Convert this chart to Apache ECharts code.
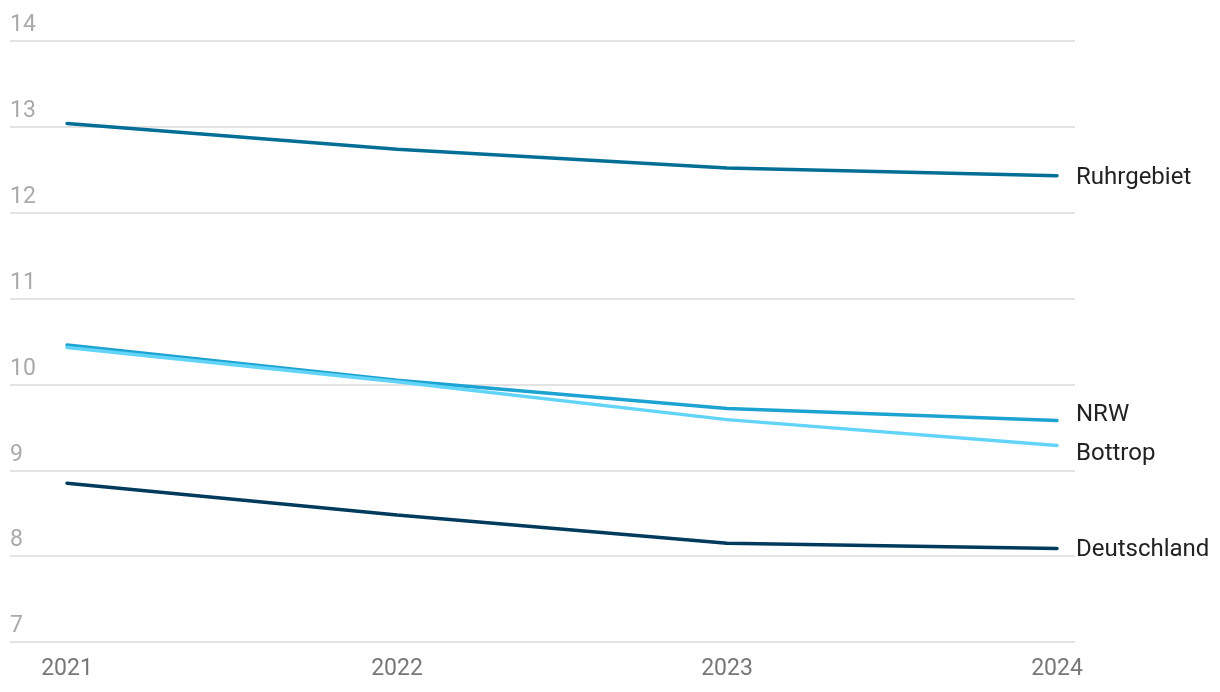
<!DOCTYPE html>
<html>
<head>
<meta charset="utf-8">
<script src="https://cdn.jsdelivr.net/npm/echarts@6/dist/echarts.min.js"></script>
<style>
html,body{margin:0;padding:0;background:#fff;}
#chart{width:1220px;height:692px;}
</style>
</head>
<body>
<div id="chart"></div>
<script>
const years = [2021, 2022, 2023, 2024];
const ruhrgebiet = [13.04, 12.74, 12.52, 12.43];
const nrw = [10.46, 10.05, 9.72, 9.58];
const bottrop = [10.43, 10.03, 9.59, 9.29];
const deutschland = [8.85, 8.48, 8.15, 8.09];
const yTicks = [7, 8, 9, 10, 11, 12, 13, 14];

const font = 'Roboto, "Noto Sans", sans-serif';
function mk(name, data, color, offset) {
  return {
    name: name,
    type: 'line',
    data: years.map((y, i) => [y, data[i]]),
    symbol: 'none',
    lineStyle: { color: color, width: 3.5, cap: 'round' },
    itemStyle: { color: color },
    emphasis: { disabled: true },
    endLabel: {
      show: true,
      formatter: name,
      color: '#222',
      fontFamily: font,
      fontSize: 24,
      distance: 19,
      offset: offset || [0, 2]
    }
  };
}
const chart = echarts.init(document.getElementById('chart'));
chart.setOption({
  animation: false,
  backgroundColor: '#fff',
  grid: { left: 10, right: 145, top: 41, bottom: 50, containLabel: false },
  xAxis: {
    type: 'value',
    min: 2021 - 57 / 330,
    max: 2024 + 18 / 330,
    axisLine: { show: false },
    axisTick: { show: false },
    splitLine: { show: false },
    axisLabel: {
      customValues: years,
      formatter: v => String(Math.round(v)),
      color: '#777',
      fontFamily: font,
      fontSize: 23,
      margin: 16
    }
  },
  yAxis: {
    type: 'value',
    min: 7,
    max: 14,
    interval: 1,
    axisLine: { show: false },
    axisTick: { show: false },
    splitLine: { lineStyle: { color: '#e3e3e3', width: 2 } },
    axisLabel: {
      inside: true,
      align: 'left',
      verticalAlign: 'bottom',
      margin: 0,
      lineHeight: 23,
      padding: [0, 0, 4, 0],
      color: '#aaa',
      fontFamily: font,
      fontSize: 23,
      formatter: v => String(v)
    }
  },
  series: [
    mk('Ruhrgebiet', ruhrgebiet, '#036f96'),
    mk('NRW', nrw, '#1ca3d1', [0, -5]),
    mk('Bottrop', bottrop, '#62d4f8', [0, 9]),
    mk('Deutschland', deutschland, '#003a5d')
  ]
});
</script>
</body>
</html>
